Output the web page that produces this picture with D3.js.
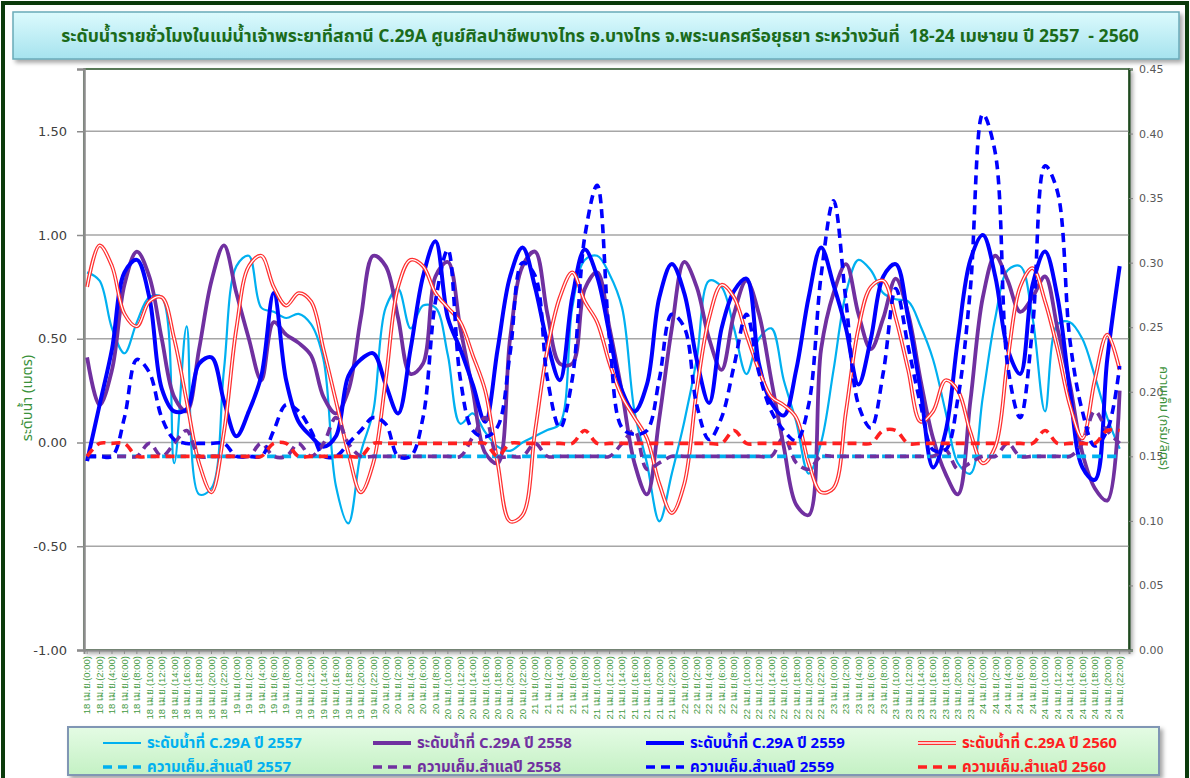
<!DOCTYPE html>
<html><head><meta charset="utf-8">
<script src="https://cdn.jsdelivr.net/npm/d3@7"></script>
<style>
body{margin:0;background:#fff;}
svg{display:block;font-family:Tahoma,"Noto Sans Thai","Noto Sans",sans-serif;}
</style>
</head><body>
<svg id="c" width="1190" height="778"></svg>
<script>
// ---------- DATA ----------
const days = ["18","19","20","21","22","23","24"];
const hourLabels = ["0:00","2:00","4:00","6:00","8:00","10:00","12:00","14:00","16:00","18:00","20:00","22:00"];
const categories = days.flatMap(d => hourLabels.map(h => d + " เม.ย.(" + h + ")"));   // one per 2 hours

const level2557 = [0.82,0.78,0.55,0.43,0.58,0.70,0.70,-0.10,0.56,-0.25,-0.22,0.35,0.85,0.90,0.65,0.63,0.60,0.62,0.57,0.40,-0.21,-0.39,-0.05,0.15,0.65,0.74,0.55,0.66,0.65,0.42,0.09,0.14,0.05,-0.02,-0.04,0.00,0.03,0.06,0.09,0.65,0.88,0.90,0.81,0.65,0.15,-0.10,-0.38,-0.15,0.10,0.40,0.78,0.75,0.55,0.33,0.50,0.55,0.30,0.10,-0.15,0.00,0.35,0.72,0.88,0.83,0.72,0.69,0.68,0.56,0.40,0.15,-0.10,-0.15,0.22,0.60,0.83,0.85,0.60,0.15,0.57,0.58,0.50,0.32,0.12,-0.03];
const level2558 = [0.41,0.18,0.35,0.76,0.92,0.80,0.50,0.22,0.15,0.45,0.78,0.95,0.72,0.50,0.30,0.58,0.52,0.48,0.42,0.22,0.14,0.25,0.60,0.90,0.85,0.60,0.33,0.38,0.80,0.87,0.55,0.25,-0.05,-0.10,0.50,0.85,0.92,0.62,0.38,0.38,0.74,0.82,0.55,0.24,-0.10,-0.25,0.12,0.55,0.87,0.75,0.50,0.35,0.62,0.78,0.62,0.30,-0.02,-0.30,-0.35,0.45,0.72,0.86,0.62,0.45,0.60,0.79,0.62,0.30,0.02,-0.15,-0.25,0.20,0.70,0.90,0.78,0.63,0.70,0.80,0.55,0.28,-0.05,-0.22,-0.28,0.25];
const level2559 = [-0.09,0.18,0.45,0.82,0.88,0.70,0.26,0.15,0.16,0.38,0.41,0.20,0.03,0.15,0.32,0.72,0.30,0.10,0.03,-0.02,0.03,0.32,0.40,0.43,0.28,0.14,0.45,0.80,0.97,0.60,0.45,0.28,0.10,0.45,0.80,0.94,0.75,0.48,0.30,0.70,0.93,0.80,0.52,0.25,0.15,0.28,0.70,0.86,0.72,0.40,0.19,0.55,0.73,0.79,0.38,0.19,0.13,0.35,0.70,0.94,0.76,0.55,0.28,0.50,0.80,0.86,0.60,0.25,-0.12,0.05,0.50,0.88,1.00,0.80,0.45,0.33,0.76,0.92,0.70,0.25,-0.12,-0.18,0.40,0.85];
const level2560 = [0.75,0.95,0.85,0.62,0.56,0.68,0.70,0.50,0.20,-0.10,-0.24,0.05,0.55,0.85,0.90,0.75,0.66,0.72,0.68,0.45,0.20,-0.05,-0.24,-0.10,0.30,0.75,0.88,0.85,0.72,0.65,0.58,0.42,0.25,-0.10,-0.38,-0.35,0.05,0.45,0.70,0.82,0.68,0.58,0.38,0.22,0.12,0.02,-0.20,-0.34,-0.20,0.25,0.60,0.76,0.70,0.52,0.35,0.22,0.18,0.12,-0.10,-0.24,-0.22,0.15,0.55,0.75,0.78,0.60,0.35,0.10,0.15,0.30,0.25,0.05,-0.10,-0.02,0.40,0.75,0.84,0.68,0.45,0.18,0.02,0.30,0.52,0.35];

const sal2557 = [0.15,0.15,0.15,0.15,0.15,0.15,0.15,0.15,0.15,0.15,0.15,0.15,0.15,0.15,0.15,0.15,0.15,0.15,0.15,0.15,0.15,0.15,0.15,0.15,0.15,0.15,0.15,0.15,0.15,0.15,0.15,0.15,0.15,0.15,0.15,0.15,0.15,0.15,0.15,0.15,0.15,0.15,0.15,0.15,0.15,0.15,0.15,0.15,0.15,0.15,0.15,0.15,0.15,0.15,0.15,0.15,0.15,0.15,0.15,0.15,0.15,0.15,0.15,0.15,0.15,0.15,0.15,0.15,0.15,0.15,0.15,0.15,0.15,0.15,0.15,0.15,0.15,0.15,0.15,0.15,0.15,0.15,0.15,0.15];
const sal2558 = [0.15,0.15,0.15,0.15,0.15,0.16,0.15,0.16,0.17,0.15,0.15,0.15,0.15,0.15,0.16,0.15,0.15,0.16,0.15,0.16,0.18,0.16,0.15,0.15,0.15,0.15,0.15,0.15,0.15,0.15,0.15,0.165,0.18,0.15,0.15,0.15,0.16,0.15,0.15,0.15,0.15,0.15,0.15,0.16,0.17,0.14,0.145,0.15,0.15,0.15,0.15,0.15,0.15,0.15,0.15,0.15,0.165,0.145,0.14,0.15,0.15,0.15,0.15,0.15,0.15,0.15,0.15,0.15,0.15,0.155,0.14,0.145,0.15,0.15,0.16,0.15,0.15,0.15,0.15,0.15,0.16,0.185,0.17,0.16];
const sal2559 = [0.15,0.15,0.15,0.18,0.225,0.215,0.18,0.163,0.16,0.16,0.16,0.16,0.15,0.15,0.15,0.17,0.19,0.185,0.17,0.15,0.15,0.16,0.17,0.18,0.175,0.15,0.15,0.18,0.27,0.31,0.21,0.17,0.165,0.173,0.23,0.30,0.29,0.21,0.172,0.21,0.32,0.36,0.24,0.172,0.167,0.17,0.21,0.26,0.25,0.19,0.163,0.18,0.22,0.26,0.215,0.185,0.17,0.162,0.19,0.29,0.348,0.27,0.19,0.172,0.215,0.28,0.235,0.19,0.155,0.155,0.195,0.28,0.415,0.385,0.22,0.18,0.25,0.375,0.355,0.24,0.185,0.158,0.17,0.22];
const sal2560 = [0.15,0.16,0.16,0.16,0.15,0.15,0.15,0.15,0.15,0.15,0.15,0.15,0.15,0.15,0.15,0.16,0.16,0.15,0.15,0.15,0.15,0.15,0.15,0.16,0.16,0.16,0.16,0.16,0.16,0.16,0.16,0.16,0.16,0.15,0.16,0.16,0.16,0.16,0.16,0.16,0.17,0.16,0.16,0.16,0.16,0.16,0.16,0.16,0.16,0.16,0.16,0.16,0.17,0.16,0.16,0.16,0.16,0.16,0.16,0.16,0.16,0.16,0.16,0.16,0.17,0.17,0.16,0.16,0.16,0.16,0.16,0.16,0.16,0.16,0.16,0.16,0.16,0.17,0.16,0.16,0.16,0.16,0.17,0.17];

const leftTicks = [-1, -0.5, 0, 0.5, 1, 1.5];
const rightTicks = [0, 0.05, 0.10, 0.15, 0.20, 0.25, 0.30, 0.35, 0.40, 0.45];

const titleText = "ระดับน้ำรายชั่วโมงในแม่น้ำเจ้าพระยาที่สถานี C.29A ศูนย์ศิลปาชีพบางไทร อ.บางไทร จ.พระนครศรีอยุธยา ระหว่างวันที่  18-24 เมษายน ปี 2557  - 2560";
const levelNames = ["ระดับน้ำที่ C.29A ปี 2557","ระดับน้ำที่ C.29A ปี 2558","ระดับน้ำที่ C.29A ปี 2559","ระดับน้ำที่ C.29A ปี 2560"];
const salNames = ["ความเค็ม.สำแลปี 2557","ความเค็ม.สำแลปี 2558","ความเค็ม.สำแลปี 2559","ความเค็ม.สำแลปี 2560"];
const colors = ["#00b0f0","#7030a0","#0000ff","#ff2020"];

// ---------- LAYOUT ----------
const W = 1190, H = 778;
const pl = 84, pr = 1129, pt = 69, pb = 650;
const svg = d3.select("#c");
const defs = svg.append("defs");

const tg = defs.append("linearGradient").attr("id","tg").attr("x1",0).attr("y1",0).attr("x2",0).attr("y2",1);
tg.append("stop").attr("offset","0%").attr("stop-color","#dcfafd");
tg.append("stop").attr("offset","100%").attr("stop-color","#a6e3ee");
const lg = defs.append("linearGradient").attr("id","lg").attr("x1",0).attr("y1",0).attr("x2",0).attr("y2",1);
lg.append("stop").attr("offset","0%").attr("stop-color","#e4fbe4");
lg.append("stop").attr("offset","100%").attr("stop-color","#c4f1c4");
const sh = defs.append("filter").attr("id","sh").attr("x","-5%").attr("y","-20%").attr("width","110%").attr("height","150%");
sh.append("feDropShadow").attr("dx",3).attr("dy",3).attr("stdDeviation",2).attr("flood-color","#000").attr("flood-opacity",0.35);

// outer background + frame
svg.append("rect").attr("x",0).attr("y",0).attr("width",W).attr("height",H).attr("fill","#fff");
svg.append("rect").attr("x",3).attr("y",3).attr("width",W-6).attr("height",H+20)
  .attr("fill","none").attr("stroke","#0b3a0b").attr("stroke-width",4);

// title
svg.append("rect").attr("x",13).attr("y",12).attr("width",1166).attr("height",47)
  .attr("fill","url(#tg)").attr("stroke","#6aaab8").attr("stroke-width",1.5).attr("filter","url(#sh)");
svg.append("text").attr("x",600).attr("y",42).attr("text-anchor","middle").style("white-space","pre")
  .attr("font-size",17.6).attr("font-weight","bold").attr("fill","#1b6b1b").text(titleText);

// plot frame
svg.append("rect").attr("x",pl).attr("y",pt).attr("width",pr-pl).attr("height",pb-pt)
  .attr("fill","#fff").attr("stroke","#244f24").attr("stroke-width",1.5).attr("filter","url(#sh)");

// scales
const x = d3.scaleBand().domain(d3.range(168)).range([pl, pr]);
const xc = i => x(i) + x.bandwidth()/2;
const yL = d3.scaleLinear().domain([-1, 1.8]).range([pb, pt]);
const yR = d3.scaleLinear().domain([0, 0.45]).range([pb, pt]);

// gridlines
svg.append("g").selectAll("line").data(leftTicks.filter(d => d > -1)).join("line")
  .attr("x1",pl).attr("x2",pr).attr("y1",d=>yL(d)).attr("y2",d=>yL(d))
  .attr("stroke","#a6a6a6").attr("stroke-width",1.5);

// left axis
const gL = svg.append("g").attr("transform",`translate(${pl},0)`)
  .call(d3.axisLeft(yL).tickValues(leftTicks).tickFormat(d => d.toFixed(2)).tickSize(7).tickPadding(10));
gL.select(".domain").attr("stroke","#8c8c8c").attr("stroke-width",2.5);
gL.selectAll(".tick line").attr("stroke","#8c8c8c").attr("stroke-width",1.5);
gL.selectAll("text").attr("font-size",13).attr("fill","#404040").attr("font-family","Tahoma,'DejaVu Sans',sans-serif");

// right axis
const gR = svg.append("g").attr("transform",`translate(${pr},0)`)
  .call(d3.axisRight(yR).tickValues(rightTicks).tickFormat(d => d.toFixed(2)).tickSize(4).tickPadding(6));
gR.select(".domain").attr("stroke","#1f4a1f").attr("stroke-width",2);
gR.selectAll(".tick line").attr("stroke","#808080");
gR.selectAll("text").attr("font-size",11).attr("fill","#595959").attr("font-family","Tahoma,'DejaVu Sans',sans-serif");

// bottom axis
const gB = svg.append("g").attr("transform",`translate(0,${pb})`)
  .call(d3.axisBottom(x).tickValues(d3.range(0,168,2)).tickFormat(i => categories[i/2]).tickSize(4));
gB.select(".domain").attr("stroke","#8c8c8c").attr("stroke-width",2);
gB.selectAll(".tick line").attr("stroke","#8c8c8c");
gB.selectAll("text").attr("transform","rotate(-90)").attr("x",-6).attr("y",0).attr("dy","0.35em")
  .attr("text-anchor","end").attr("font-size",9.5).attr("fill","#3f9a3f");

// axis titles
svg.append("text").attr("transform","translate(32,398) rotate(-90)").attr("text-anchor","middle")
  .attr("font-size",14.5).attr("fill","#3a913a").text("ระดับน้ำ (เมตร)");
svg.append("text").attr("transform","translate(1160,418) rotate(90)").attr("text-anchor","middle")
  .attr("font-size",12.5).attr("fill","#3a913a").text("ความเค็ม (กรัม/ลิตร)");

// series
const curve = d3.curveCatmullRom.alpha(0.5);
const lineL = d3.line().x((d,i) => xc(i*2)).y(d => yL(d)).curve(curve);
const lineR = d3.line().x((d,i) => xc(i*2)).y(d => yR(d)).curve(curve);
const plot = svg.append("g");
const levels = [level2557, level2558, level2559, level2560];
const sals = [sal2557, sal2558, sal2559, sal2560];
const levelWidths = [2.2, 3.8, 4, 0];

function drawLevel(g, k, pathD) {
  if (k === 3) {
    g.append("path").attr("d", pathD).attr("fill","none").attr("stroke","#ff3030").attr("stroke-width",3.8).attr("stroke-linejoin","round");
    g.append("path").attr("d", pathD).attr("fill","none").attr("stroke","#ffffff").attr("stroke-width",1.3).attr("stroke-linejoin","round");
  } else {
    g.append("path").attr("d", pathD).attr("fill","none").attr("stroke",colors[k]).attr("stroke-width",levelWidths[k]).attr("stroke-linejoin","round");
  }
}
function drawSal(g, k, pathD) {
  g.append("path").attr("d", pathD).attr("fill","none").attr("stroke",colors[k]).attr("stroke-width",3.6)
   .attr("stroke-dasharray","9,6").attr("stroke-linejoin","round");
}
levels.forEach((arr,k) => drawLevel(plot, k, lineL(arr)));
sals.forEach((arr,k) => drawSal(plot, k, lineR(arr)));

// legend
svg.append("rect").attr("x",68).attr("y",727).attr("width",1091).attr("height",48)
  .attr("fill","url(#lg)").attr("stroke","#8096b4").attr("stroke-width",2).attr("filter","url(#sh)");
const colX = [103, 373, 646, 918];
const rowY = [743, 767];
const leg = svg.append("g");
colX.forEach((cx,k) => {
  drawLevel(leg, k, `M${cx},${rowY[0]}H${cx+38}`);
  leg.append("text").attr("x",cx+44).attr("y",rowY[0]+5).attr("font-size",15).attr("font-weight","bold")
    .attr("fill",colors[k]).text(levelNames[k]);
  drawSal(leg, k, `M${cx},${rowY[1]}H${cx+38}`);
  leg.append("text").attr("x",cx+44).attr("y",rowY[1]+5).attr("font-size",15).attr("font-weight","bold")
    .attr("fill",colors[k]).text(salNames[k]);
});
</script>
</body></html>
